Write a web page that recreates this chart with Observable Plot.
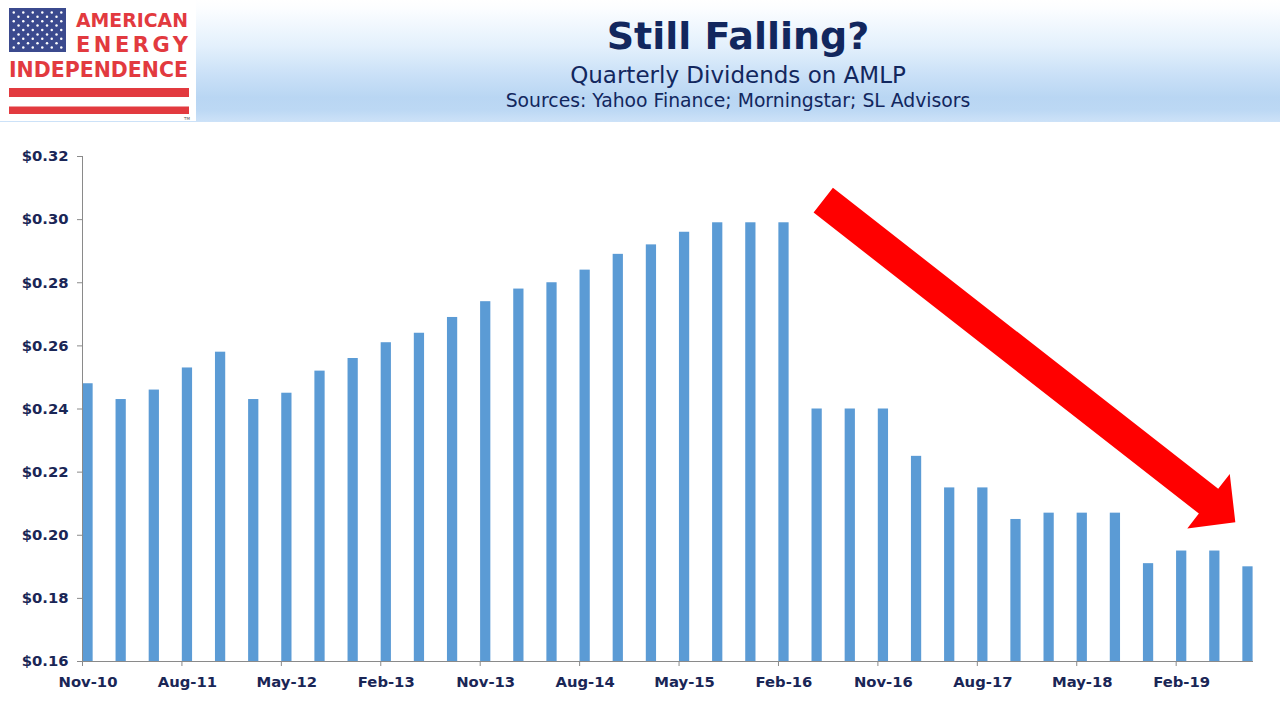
<!DOCTYPE html>
<html><head><meta charset="utf-8">
<script src="https://cdn.jsdelivr.net/npm/d3@7"></script>
<script src="https://cdn.jsdelivr.net/npm/@observablehq/plot@0.6"></script>
<style>
html,body{margin:0;padding:0;background:#fff;width:1280px;height:720px;overflow:hidden}
#header{position:relative;width:1280px;height:122px;
  background:linear-gradient(to bottom,#ffffff 0%,#fbfdff 8%,#e3f0fc 38%,#c9e0f7 62%,#b9d6f3 80%,#bcd8f4 90%,#cde2f8 100%)}
#header svg{position:absolute;left:0;top:0}
#chart svg{display:block}
</style></head><body>
<div id="header">
<svg width="1280" height="122" xmlns="http://www.w3.org/2000/svg">
  <rect x="0" y="0" width="196" height="121" fill="#ffffff"/>
  <rect x="9" y="8" width="57" height="44" fill="#3B4A8E"/>
  <g id="stars" fill="#ffffff"></g>
  <g font-family="'DejaVu Sans', sans-serif" font-weight="bold" fill="#E23A3F">
    <text x="76" y="26.5" font-size="19.5" textLength="112" lengthAdjust="spacingAndGlyphs">AMERICAN</text>
    <text x="76" y="52" font-size="21" textLength="112" lengthAdjust="spacing">ENERGY</text>
    <text x="9" y="77" font-size="21" textLength="179" lengthAdjust="spacingAndGlyphs">INDEPENDENCE</text>
  </g>
  <rect x="9" y="88" width="180" height="9" fill="#E23A3F"/>
  <rect x="9" y="106.5" width="180" height="7.5" fill="#E23A3F"/>
  <text x="184" y="120" font-size="4" font-family="DejaVu Sans" fill="#555">TM</text>
  <g font-family="'DejaVu Sans', Verdana, sans-serif" text-anchor="middle" fill="#12275E">
    <text x="738" y="48.5" font-size="38" font-weight="bold">Still Falling?</text>
    <text x="738" y="82.5" font-size="23">Quarterly Dividends on AMLP</text>
    <text x="738" y="107" font-size="18.8">Sources: Yahoo Finance; Morningstar; SL Advisors</text>
  </g>
</svg>
</div>
<div id="chart"></div>
<script>
// ---- data ----
const quarters = ["2010-11","2011-02","2011-05","2011-08","2011-11","2012-02","2012-05","2012-08","2012-11",
  "2013-02","2013-05","2013-08","2013-11","2014-02","2014-05","2014-08","2014-11","2015-02","2015-05","2015-08",
  "2015-11","2016-02","2016-05","2016-08","2016-11","2017-02","2017-05","2017-08","2017-11","2018-02","2018-05",
  "2018-08","2018-11","2019-02","2019-05","2019-08"];
const dividends = [0.248,0.243,0.246,0.253,0.258,0.243,0.245,0.252,0.256,
  0.261,0.264,0.269,0.274,0.278,0.280,0.284,0.289,0.292,0.296,0.299,
  0.299,0.299,0.240,0.240,0.240,0.225,0.215,0.215,0.205,0.207,0.207,
  0.207,0.191,0.195,0.195,0.190];
const xTickLabels = ["Nov-10","Aug-11","May-12","Feb-13","Nov-13","Aug-14","May-15","Feb-16","Nov-16","Aug-17","May-18","Feb-19"];
const yTicks = [0.16,0.18,0.20,0.22,0.24,0.26,0.28,0.30,0.32];
// annotation arrow (month offset from Nov-10, dividend value)
const arrowFrom = [67.1, 0.306];
const arrowTo = [104.4, 0.204];

// ---- logo stars ----
(function(){
  const g = document.getElementById("stars");
  for (let r = 0; r < 9; r++) {
    const n = r % 2 === 0 ? 6 : 5;
    for (let c = 0; c < n; c++) {
      const cx = 9 + 4.75 * (r % 2 === 0 ? 2*c+1 : 2*c+2);
      const cy = 8 + 4.4 * (r + 1);
      const el = document.createElementNS("http://www.w3.org/2000/svg","circle");
      el.setAttribute("cx", cx); el.setAttribute("cy", cy); el.setAttribute("r", 1.25);
      g.appendChild(el);
    }
  }
})();

// ---- helpers ----
const monthNames = ["Jan","Feb","Mar","Apr","May","Jun","Jul","Aug","Sep","Oct","Nov","Dec"];
const origin = 2010*12 + 10; // Nov 2010
const idxOf = s => { const [y,m] = s.split("-").map(Number); return y*12 + (m-1) - origin; };
const idxOfLabel = s => { const [mn,yy] = s.split("-"); return (2000+Number(yy))*12 + monthNames.indexOf(mn) - origin; };
const rows = quarters.map((q,i) => ({m: idxOf(q), v: dividends[i]}));
const nMonths = d3.max(rows, d => d.m) + 1;
const xTickPos = xTickLabels.map(idxOfLabel);
const labelAt = new Map(xTickPos.map((p,i) => [p, xTickLabels[i]]));
const navy = "#1A2656";
const axisGray = "#8a8a8a";

function arrowMark(index, scales) {
  const x0 = scales.x(arrowFrom[0]), y0 = scales.y(arrowFrom[1]);
  const x1 = scales.x(arrowTo[0]), y1 = scales.y(arrowTo[1]);
  const dx = x1-x0, dy = y1-y0, L = Math.hypot(dx,dy);
  const ux = dx/L, uy = dy/L, px = -uy, py = ux;
  const sw = 15.7, hw = 34.5, hl = 34;
  const bx = x1-ux*hl, by = y1-uy*hl;
  const pts = [[x0+px*sw,y0+py*sw],[bx+px*sw,by+py*sw],[bx+px*hw,by+py*hw],[x1,y1],
               [bx-px*hw,by-py*hw],[bx-px*sw,by-py*sw],[x0-px*sw,y0-py*sw]];
  return d3.create("svg:path")
    .attr("d", "M" + pts.map(p => p[0].toFixed(2)+","+p[1].toFixed(2)).join("L") + "Z")
    .attr("fill", "#FF0000").node();
}

const chart = Plot.plot({
  width: 1280, height: 598,
  marginTop: 34, marginBottom: 59, marginLeft: 82, marginRight: 27,
  x: {type: "linear", domain: [0, nMonths]},
  y: {domain: [yTicks[0], yTicks[yTicks.length-1]]},
  style: {fontFamily: "'DejaVu Sans', Verdana, sans-serif", background: "#ffffff", overflow: "visible"},
  marks: [
    Plot.rect(rows, {x1: "m", x2: d => d.m + 1, y1: () => yTicks[0], y2: "v", fill: "#5B9BD5", insetLeft: 0.4, insetRight: 0.4}),
    Plot.ruleX([0], {stroke: axisGray}),
    Plot.ruleY([yTicks[0]], {stroke: axisGray}),
    Plot.axisY({ticks: yTicks, tickSize: 5, tickPadding: 9, label: null,
      tickFormat: d => "$" + d.toFixed(2), stroke: axisGray, fill: navy, fontSize: 14.8, fontWeight: "bold"}),
    Plot.axisX({ticks: xTickPos, tickSize: 5, label: null, fill: "none", stroke: axisGray}),
    Plot.axisX({ticks: xTickPos, tickSize: 5, tickPadding: 10, label: null, stroke: "none", fill: navy,
      tickFormat: p => labelAt.get(p), dx: 5.5, fontSize: 14.8, fontWeight: "bold"}),
    arrowMark
  ]
});
document.getElementById("chart").appendChild(chart);
</script>
</body></html>
